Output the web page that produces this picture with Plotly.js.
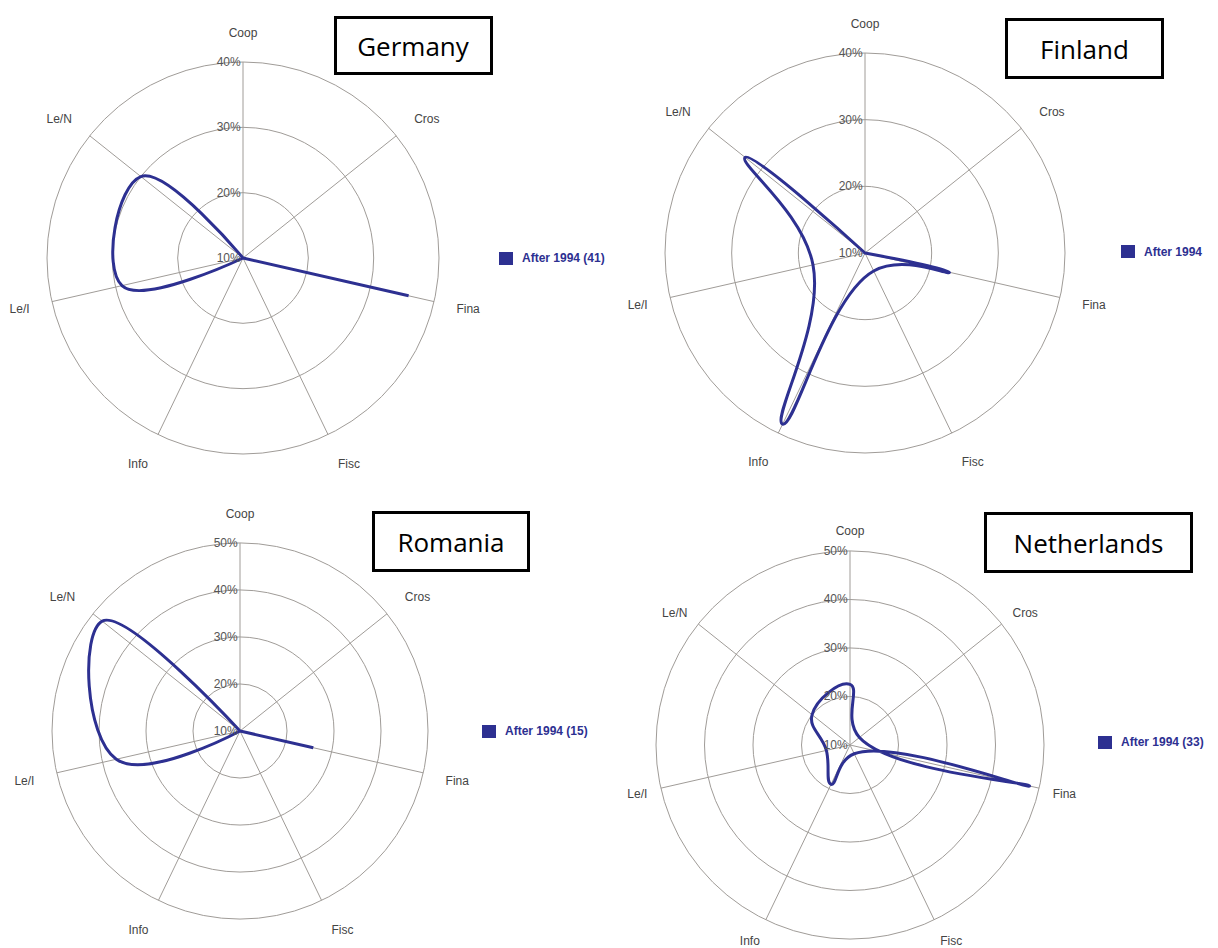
<!DOCTYPE html>
<html>
<head>
<meta charset="utf-8">
<script src="https://cdn.plot.ly/plotly-3.0.1.min.js"></script>
<style>
  html, body { margin: 0; padding: 0; background: #ffffff; }
  #chart { width: 1218px; height: 948px; }
</style>
</head>
<body>
<div id="chart"></div>
<script>
// ---- data ----
const categories = ['Coop', 'Cros', 'Fina', 'Fisc', 'Info', 'Le/I', 'Le/N'];
const germanyValues = [10, 10, 36, 10, 10, 29, 30];
const finlandValues = [10, 10, 23, 13, 38.5, 18, 33];
const romaniaValues = [10, 10, 26, 10, 10, 37, 47.5];
const netherlandsValues = [22.5, 12.5, 48, 12, 19, 15, 20];
const countryNames = ['Germany', 'Finland', 'Romania', 'Netherlands'];
const legendLabels = ['After 1994 (41)', 'After 1994', 'After 1994 (15)', 'After 1994 (33)'];
const radialTicksSmall = [10, 20, 30, 40];
const radialTicksLarge = [10, 20, 30, 40, 50];

// ---- styling / layout ----
const W = 1218, H = 948;
const LINE = '#2d3091';
const GRID = '#a09c98';
const px = (x) => x / W;
const py = (y) => 1 - y / H;

// centre + radius (pixels) of each radar, label offset
const geom = [
  { cx: 243, cy: 258, R: 196, lab: 20, ticks: radialTicksSmall, vals: germanyValues },
  { cx: 865, cy: 253, R: 200, lab: 20, ticks: radialTicksSmall, vals: finlandValues },
  { cx: 240, cy: 731, R: 188, lab: 20, ticks: radialTicksLarge, vals: romaniaValues },
  { cx: 850, cy: 745, R: 194, lab: 11, ticks: radialTicksLarge, vals: netherlandsValues }
];
// title boxes (pixel rectangles)
const boxes = [
  { x0: 335, y0: 17, x1: 493, y1: 75 },
  { x0: 1005, y0: 18, x1: 1163, y1: 78 },
  { x0: 372, y0: 511, x1: 529, y1: 571 },
  { x0: 984, y0: 512, x1: 1192, y1: 572 }
];
// legend positions (square left edge, centre y)
const legends = [
  { x: 499, y: 258 },
  { x: 1121, y: 252 },
  { x: 482, y: 731 },
  { x: 1098, y: 742 }
];

const traces = [];
const layout = {
  width: W, height: H,
  margin: { l: 0, r: 0, t: 0, b: 0 },
  paper_bgcolor: '#ffffff',
  showlegend: false,
  font: { family: 'Liberation Sans, Arial, sans-serif', color: '#444' },
  annotations: [],
  shapes: []
};

geom.forEach((g, i) => {
  const key = i === 0 ? 'polar' : 'polar' + (i + 1);
  const ticks = g.ticks;
  layout[key] = {
    domain: { x: [px(g.cx - g.R), px(g.cx + g.R)], y: [py(g.cy + g.R), py(g.cy - g.R)] },
    bgcolor: 'rgba(0,0,0,0)',
    angularaxis: {
      type: 'category',
      categoryarray: categories,
      direction: 'clockwise',
      rotation: 90,
      showline: true,
      linecolor: GRID,
      linewidth: 1,
      showgrid: true,
      gridcolor: GRID,
      gridwidth: 1,
      ticks: 'outside',
      ticklen: g.lab,
      tickcolor: 'rgba(0,0,0,0)',
      tickfont: { size: 12, color: '#444', family: 'Liberation Sans, Arial, sans-serif' }
    },
    radialaxis: {
      range: [ticks[0], ticks[ticks.length - 1]],
      tickvals: ticks,
      ticktext: ticks.map(t => t + '%'),
      angle: 90,
      side: 'counterclockwise',
      showline: false,
      showgrid: true,
      gridcolor: GRID,
      gridwidth: 1,
      ticks: '',
      tickangle: 90,
      tickfont: { size: 12, color: '#555', family: 'Liberation Sans, Arial, sans-serif' }
    }
  };

  traces.push({
    type: 'scatterpolar',
    subplot: key,
    mode: 'lines',
    theta: categories.concat([categories[0]]),
    r: g.vals.concat([g.vals[0]]),
    name: legendLabels[i],
    line: { color: LINE, width: 3, shape: 'spline', smoothing: 1.3 },
    hoverinfo: 'skip'
  });

  // title box
  const b = boxes[i];
  layout.annotations.push({
    xref: 'paper', yref: 'paper',
    x: px((b.x0 + b.x1) / 2), y: py((b.y0 + b.y1) / 2),
    xanchor: 'center', yanchor: 'middle',
    text: countryNames[i],
    showarrow: false,
    width: b.x1 - b.x0 - 5, height: b.y1 - b.y0 - 5,
    bgcolor: '#ffffff',
    bordercolor: '#000000', borderwidth: 3, borderpad: 0,
    font: { family: 'Open Sans, Noto Sans, sans-serif', size: 26, color: '#000000' }
  });

  // legend: square + label
  const L = legends[i];
  layout.annotations.push({
    xref: 'paper', yref: 'paper',
    x: px(L.x), y: py(L.y), xanchor: 'left', yanchor: 'middle',
    text: ' ', showarrow: false,
    width: 14, height: 13, bgcolor: LINE, borderpad: 0, borderwidth: 0
  });
  layout.annotations.push({
    xref: 'paper', yref: 'paper',
    x: px(L.x + 21), y: py(L.y), xanchor: 'left', yanchor: 'middle',
    text: '<b>' + legendLabels[i] + '</b>', showarrow: false,
    font: { family: 'Liberation Sans, Arial, sans-serif', size: 12, color: LINE }
  });
});

// red spell-check underline under "Finland"
layout.shapes.push({
  type: 'line', xref: 'paper', yref: 'paper',
  x0: px(1040), x1: px(1128), y0: py(64), y1: py(64),
  line: { color: '#e0403c', width: 1.2, dash: 'dot' }
});

Plotly.newPlot('chart', traces, layout, { displayModeBar: false, staticPlot: true });
</script>
</body>
</html>
